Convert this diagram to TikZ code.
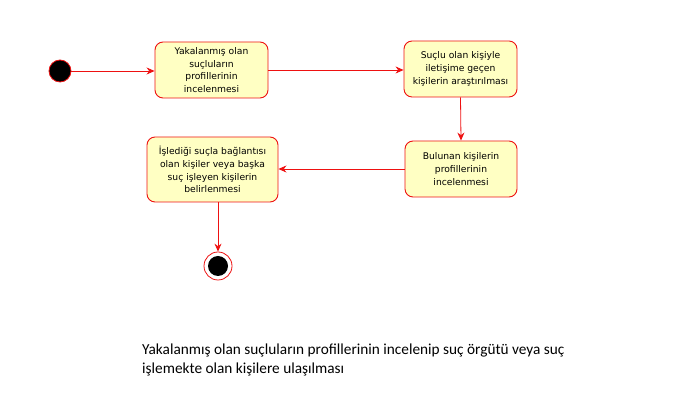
\documentclass[tikz,border=0pt]{standalone}
\usepackage{fontspec}
\setmainfont{DejaVu Sans}
\newfontfamily\capfont{Carlito}
\usetikzlibrary{arrows.meta}
\definecolor{boxfill}{HTML}{FFFFC3}
\definecolor{rd}{HTML}{EE1111}
\tikzset{
  act/.style={draw=rd, fill=boxfill, rounded corners=8pt, line width=0.9pt, align=center,
    font=\fontsize{9.2}{12.8}\selectfont, inner sep=0pt},
  flow/.style={draw=rd, line width=0.8pt, -{Stealth[length=8pt,width=7pt]}},
}
\begin{document}
\begin{tikzpicture}[x=1pt,y=1pt]
\useasboundingbox (0,0) rectangle (684,406);
\node[circle, fill=black, draw=rd, line width=0.8pt, minimum size=22pt, inner sep=0pt] (start) at (60,335) {};
\node[act, minimum width=113pt, minimum height=56pt] (a1) at (211.5,336) {Yakalanmış olan\\suçluların\\profillerinin\\incelenmesi};
\node[act, minimum width=113pt, minimum height=56pt] (a2) at (460.5,337) {Suçlu olan kişiyle\\iletişime geçen\\kişilerin araştırılması};
\node[act, minimum width=112pt, minimum height=56pt] (a3) at (461,237) {Bulunan kişilerin\\profillerinin\\incelenmesi};
\node[act, minimum width=131pt, minimum height=65pt] (a4) at (212.5,236.5) {İşlediği suçla bağlantısı\\olan kişiler veya başka\\suç işleyen kişilerin\\belirlenmesi};
\node[circle, draw=rd, fill=white, line width=0.8pt, minimum size=28pt, inner sep=0pt] (end) at (218,140) {};
\node[circle, fill=black, minimum size=20pt, inner sep=0pt] at (end) {};
\draw[flow] (start) -- (a1.west |- start);
\draw[flow] (a1.east |- 0,336) -- (a2.west |- 0,336);
\draw[flow] (a2.south) -- (a3.north);
\draw[flow] (a3.west) -- (a4.east |- a3.west);
\draw[flow] (a4.south -| end) -- (end.north);
\node[anchor=north west, align=left, font=\capfont\fontsize{15.3}{18.5}\selectfont, inner sep=0pt] (cap) at (142,62) {Yakalanmış olan suçluların profillerinin incelenip suç örgütü veya suç\\işlemekte olan kişilere ulaşılması};
\end{tikzpicture}
\end{document}
